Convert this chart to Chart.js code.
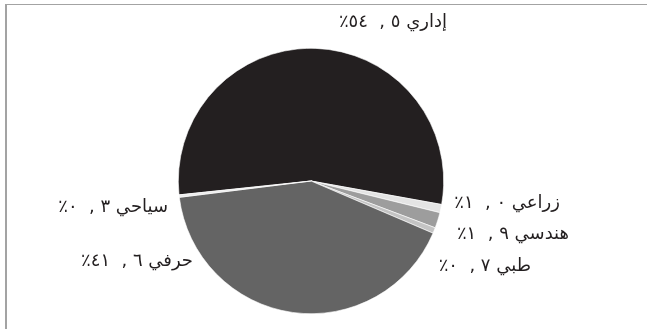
<!DOCTYPE html>
<html>
<head>
<meta charset="utf-8">
<script src="https://cdn.jsdelivr.net/npm/chart.js@4"></script>
<style>
  html, body { margin: 0; padding: 0; background: #fff; }
  #wrap { position: relative; width: 647px; height: 329px; }
  #frame-top { position: absolute; left: 5px; top: 4px; right: 0; height: 1px; background: #a3a3a3; }
  #frame-left { position: absolute; left: 5px; top: 4px; width: 2px; bottom: 0; background: #a3a3a3; }
</style>
</head>
<body>
<div id="wrap">
  <canvas id="grafico" width="647" height="329"></canvas>
  <div id="frame-top"></div>
  <div id="frame-left"></div>
</div>
<script>
// datos
const categorias = ['إداري', 'زراعي', 'هندسي', 'طبي', 'حرفي', 'سياحي'];
const valores = [54.5, 1.0, 1.9, 0.7, 41.6, 0.3];
const colores = ['#231f20', '#e4e4e4', '#9d9d9d', '#c4c4c4', '#646464', '#ececec'];

// posiciones de etiquetas (borde derecho, centro vertical)
const posEtiquetas = [[447, 22], [560, 203], [569, 234], [531, 266], [193, 261], [168, 207]];

const digitos = '٠١٢٣٤٥٦٧٨٩';
function aIndico(n) { return String(n).split('').map(d => digitos[+d]).join(''); }
function textoEtiqueta(nombre, v) {
    const ent = Math.floor(v);
    const dec = Math.round((v - ent) * 10);
    return nombre + ' ' + aIndico(dec) + ' ,  ' + aIndico(ent) + '٪';
}

const etiquetas = {
    id: 'etiquetas',
    afterDraw(chart) {
        const ctx = chart.ctx;
        ctx.save();
        ctx.direction = 'rtl';
        ctx.font = '18px "DejaVu Sans"';
        ctx.fillStyle = '#231f20';
        ctx.textAlign = 'right';
        ctx.textBaseline = 'middle';
        categorias.forEach((c, i) => {
            const [x, y] = posEtiquetas[i];
            ctx.fillText(textoEtiqueta(c, valores[i]), x, y);
        });
        ctx.restore();
    }
};

new Chart(document.getElementById('grafico'), {
    type: 'pie',
    data: {
        labels: categorias,
        datasets: [{ data: valores, backgroundColor: colores, borderColor: '#ffffff', borderWidth: 0.6 }]
    },
    options: {
        responsive: false,
        animation: false,
        rotation: 264,
        layout: { padding: { left: 178, right: 203, top: 48, bottom: 15 } },
        plugins: { legend: { display: false }, tooltip: { enabled: false } }
    },
    plugins: [etiquetas]
});
</script>
</body>
</html>
